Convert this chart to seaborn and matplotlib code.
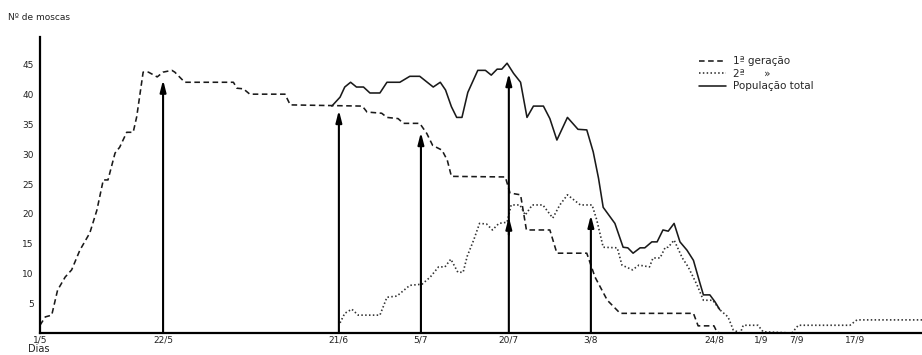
import matplotlib
matplotlib.use("Agg")
import matplotlib.pyplot as plt
from matplotlib.lines import Line2D
import seaborn as sns
import pandas as pd

# ---- data (days counted from 1/5) ----
gen1_days = [0, 0.9, 2, 3, 4.3, 5.4, 6.8, 8.5, 9.7, 10.8, 11.6, 12.8, 13.6, 14.8, 15.9,
             16.5, 17.6, 18.5, 20, 21, 22.5, 23, 24.7, 33, 33.6, 34.7, 35.8, 41.8, 42.7,
             55, 55.8, 58.3, 59.2, 61.1, 62, 64.8, 66, 67, 68.6, 69.5, 70.2, 79.4, 80.2,
             82, 83, 87, 88.2, 93.3, 94.7, 96.8, 99, 111.5, 112.3, 115, 115.5, 116]
gen1_vals = [1.3, 2.7, 3, 7.2, 9.4, 10.6, 13.9, 16.8, 20.6, 25.7, 25.7, 30.2, 31.2, 33.7, 33.7,
             36.3, 43.8, 43.8, 43, 43.8, 44.1, 43.8, 42.1, 42.1, 41.1, 41, 40.1, 40.1, 38.3,
             38.1, 37.1, 36.9, 36.2, 36.0, 35.2, 35.2, 33.5, 31.5, 30.7, 29, 26.3, 26.2, 23.5,
             23.2, 17.3, 17.3, 13.4, 13.4, 9.4, 5.5, 3.3, 3.3, 1.2, 1.2, 0.2, 0]

gen2_days = [51.2, 52, 53.2, 54.3, 58, 59.2, 60.9, 63.1, 65.2, 66.6, 68, 69.1, 70.1, 71.3,
             72.2, 72.9, 74, 75, 76.2, 77.2, 78.3, 79.7, 80.4, 81.9, 82.8, 84, 85.8, 87.5,
             88.7, 90, 92.2, 94.2, 95, 96.1, 98.5, 99.3, 101.1, 102.2, 104, 104.6, 105.8,
             106.7, 107.2, 108.2, 109.6, 110.6, 112.1, 113.2, 114.8, 116, 117.4, 118.3,
             119.5, 120, 122.5, 123.4, 128.3, 129.4, 138.2, 139.4, 150.5]
gen2_vals = [1.7, 3.3, 4, 3, 3, 6, 6.2, 8, 8.2, 9.4, 11.1, 11.1, 12.4, 10.2,
             10.2, 12.9, 15.6, 18.4, 18.3, 17.3, 18.4, 18.6, 21.5, 21.5, 19.8, 21.5, 21.5, 19.3,
             21.5, 23.2, 21.5, 21.5, 19, 14.4, 14.3, 11.4, 10.6, 11.4, 11.1, 12.6, 12.6,
             14.4, 14.4, 15.6, 12.6, 11.1, 8.1, 5.5, 5.5, 3.9, 2.7, 0.5,
             0, 1.3, 1.3, 0.2, 0, 1.3, 1.3, 2.2, 2.2]

total_days = [49.8, 51.2, 52, 53, 54, 55.2, 56.3, 58, 59.2, 61.4, 63.1, 64.8, 67.1, 68.3,
              69.2, 70.2, 71.1, 72, 73, 74.7, 76, 77, 78, 78.8, 79.7, 80.8, 82, 83.1, 84.2,
              85.9, 87, 88.2, 90, 91.8, 93.3, 94.4, 95.3, 96.1, 98.1, 99.5, 100.3, 101.2,
              102.4, 103.2, 104.4, 105.3, 106.3, 107.2, 108.2, 109.2, 110.4, 111.5, 112.6,
              113.2, 114.3, 115.2, 116]
total_vals = [38.1, 39.6, 41.3, 42.1, 41.3, 41.3, 40.3, 40.3, 42.1, 42.1, 43.1, 43.1, 41.3, 42.1,
              40.8, 38, 36.2, 36.2, 40.4, 44.1, 44.1, 43.3, 44.3, 44.3, 45.3, 43.6, 42.1, 36.2, 38.1,
              38.1, 36.0, 32.4, 36.2, 34.2, 34.1, 30.4, 26, 21.1, 18.4, 14.4, 14.3, 13.4,
              14.3, 14.3, 15.3, 15.3, 17.3, 17.1, 18.4, 15.3, 13.9, 12.2, 8.4,
              6.4, 6.4, 5.2, 3.9]

arrow_days = [21, 51, 65, 80, 94]
arrow_tops = [42.5, 37.4, 33.7, 43.6, 19.8]
extra_head_day = 80
extra_head_val = 19.5

tick_days = [0, 21, 51, 65, 80, 94, 115, 123, 129, 139]
tick_labels = ["1/5", "22/5", "21/6", "5/7", "20/7", "3/8", "24/8", "1/9", "7/9", "17/9"]
ytick_vals = [5, 10, 15, 20, 25, 30, 35, 40, 45]

series_labels = ["1ª geração", "2ª      »", "População total"]

# ---- figure ----
sns.set_style("white")
plt.rcParams["font.family"] = ["DejaVu Sans"]
fig = plt.figure(figsize=(9.22, 3.55), dpi=100)
ax = fig.add_axes([40 / 922, 22 / 355, 882 / 922, 296 / 355])

d1 = pd.DataFrame({"dia": gen1_days, "n": gen1_vals})
d2 = pd.DataFrame({"dia": gen2_days, "n": gen2_vals})
dt = pd.DataFrame({"dia": total_days, "n": total_vals})

lw = 1.15
sns.lineplot(data=d1, x="dia", y="n", ax=ax, color="#1a1a1a", lw=lw,
             linestyle=(0, (3.5, 2.2)), sort=False, estimator=None)
sns.lineplot(data=d2, x="dia", y="n", ax=ax, color="#333333", lw=1.2,
             linestyle=(0, (0.9, 1.4)), sort=False, estimator=None)
sns.lineplot(data=dt, x="dia", y="n", ax=ax, color="#1a1a1a", lw=lw,
             sort=False, estimator=None)

# vertical arrows
for d, t in zip(arrow_days, arrow_tops):
    ax.annotate("", xy=(d, t), xytext=(d, 0),
                arrowprops=dict(arrowstyle="-|>,head_length=0.7,head_width=0.18",
                                lw=1.5, color="black", shrinkA=0, shrinkB=0))
ax.annotate("", xy=(extra_head_day, extra_head_val), xytext=(extra_head_day, extra_head_val - 3),
            arrowprops=dict(arrowstyle="-|>,head_length=0.7,head_width=0.18",
                            lw=1.5, color="black", shrinkA=0, shrinkB=0))

ax.set_xlim(0, 150.5)
ax.set_ylim(0, 49.7)
ax.set_xticks(tick_days)
ax.set_xticklabels(tick_labels, fontsize=6.5, color="#222222")
ax.set_yticks(ytick_vals)
ax.set_yticklabels([str(v) for v in ytick_vals], fontsize=6.5, color="#222222")
ax.tick_params(axis="x", length=0, pad=2)
ax.tick_params(axis="y", length=2.5, width=1, direction="out", pad=2, color="black")
ax.set_xlabel("")
ax.set_ylabel("")
for s in ["top", "right"]:
    ax.spines[s].set_visible(False)
for s in ["left", "bottom"]:
    ax.spines[s].set_linewidth(1.6)
    ax.spines[s].set_color("black")
ax.patch.set_alpha(0)

fig.text(8 / 922, 1 - 18 / 355, "Nº de moscas", fontsize=6.5, color="#222222", va="center")
fig.text(28 / 922, 1 / 355, "Dias", fontsize=7, color="#222222", va="bottom")

handles = [Line2D([], [], color="#1a1a1a", lw=lw, linestyle=(0, (3.5, 2.2))),
           Line2D([], [], color="#333333", lw=1.2, linestyle=(0, (0.9, 1.4))),
           Line2D([], [], color="#1a1a1a", lw=lw)]
leg = ax.legend(handles, series_labels, loc="upper left",
                bbox_to_anchor=((695 - 40) / 882, (333 - 52) / 296),
                frameon=False, fontsize=7.5, handlelength=2.6, handletextpad=0.6,
                labelspacing=0.25, borderaxespad=0)

fig.savefig("out.png", dpi=100, facecolor="white")
